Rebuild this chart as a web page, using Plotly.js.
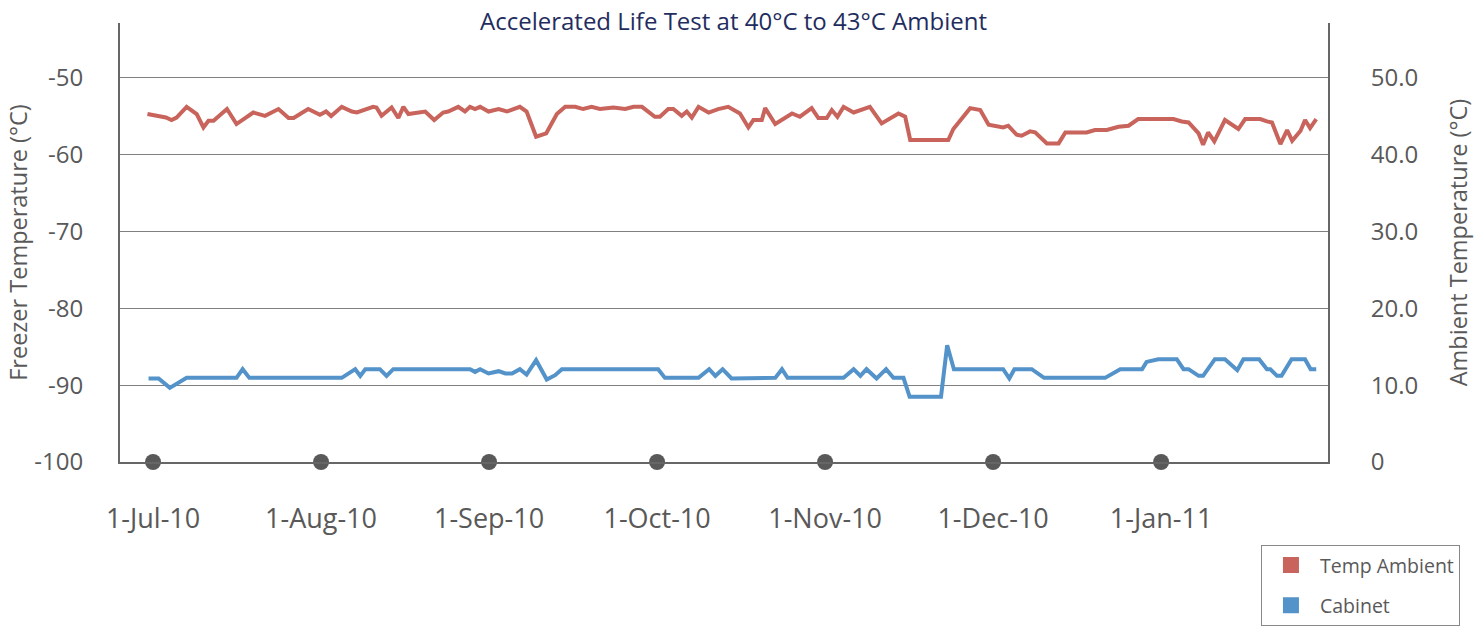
<!DOCTYPE html>
<html>
<head>
<meta charset="utf-8">
<script src="https://cdn.plot.ly/plotly-3.0.1.min.js"></script>
<style>html,body{margin:0;padding:0;background:#fff}#chart{width:1483px;height:641px}</style>
</head>
<body>
<div id="chart"></div>
<script>
// x positions are days on an evenly spaced month scale (30 units per month, 0 = 1-Jul-10)
const monthTicks = [0, 30, 60, 90, 120, 150, 180];
const monthLabels = ['1-Jul-10', '1-Aug-10', '1-Sep-10', '1-Oct-10', '1-Nov-10', '1-Dec-10', '1-Jan-11'];
const monthDotLevel = [-100, -100, -100, -100, -100, -100, -100];

const ambientX = [-1.0, 1.55, 2.3, 3.3, 4.2, 6.0, 7.8, 9.0, 9.9, 10.8, 13.2, 14.9, 17.9, 20.0, 22.4, 24.2, 25.1, 27.7, 29.8, 30.9, 31.8, 33.7, 35.5, 36.4, 39.3, 39.9, 40.8, 42.6, 43.8, 44.7, 45.6, 48.6, 50.2, 51.8, 52.7, 54.5, 55.7, 56.6, 57.5, 58.4, 59.9, 61.7, 63.2, 65.5, 66.7, 68.4, 70.2, 72.1, 73.6, 75.4, 76.8, 78.3, 79.8, 82.2, 84.3, 85.8, 87.3, 89.6, 90.5, 92.0, 92.9, 94.4, 95.3, 96.2, 97.4, 99.2, 100.9, 102.7, 104.8, 106.3, 107.2, 108.7, 109.3, 111.1, 114.1, 115.5, 117.6, 118.8, 120.3, 121.2, 122.2, 123.3, 125.1, 128.0, 130.1, 133.1, 134.3, 135.2, 142.0, 142.9, 145.9, 147.7, 149.2, 151.8, 152.7, 154.2, 155.1, 156.6, 157.5, 159.6, 161.7, 162.9, 166.7, 168.2, 170.3, 172.4, 174.2, 175.9, 182.2, 183.7, 184.9, 186.7, 187.5, 188.4, 189.5, 191.4, 193.8, 195.0, 197.7, 198.9, 199.8, 201.3, 202.5, 203.4, 204.9, 205.7, 206.6, 207.7];
const ambientTemp = [45.29, 44.84, 44.84, 44.51, 44.84, 46.23, 45.29, 43.55, 44.42, 44.42, 45.94, 43.99, 45.49, 45.06, 45.94, 44.77, 44.77, 45.94, 45.19, 45.62, 45.03, 46.23, 45.62, 45.49, 46.23, 46.14, 45.06, 46.14, 44.77, 46.23, 45.29, 45.62, 44.51, 45.49, 45.62, 46.23, 45.62, 46.23, 45.94, 46.23, 45.62, 45.94, 45.62, 46.23, 45.62, 42.34, 42.77, 45.29, 46.23, 46.23, 45.94, 46.23, 45.94, 46.14, 45.94, 46.23, 46.23, 44.94, 44.94, 45.94, 45.94, 45.06, 45.62, 44.84, 46.23, 45.49, 45.94, 46.23, 45.36, 43.55, 44.51, 44.51, 46.06, 43.99, 45.36, 44.94, 46.06, 44.77, 44.77, 45.81, 44.94, 46.23, 45.49, 46.23, 44.07, 45.36, 44.94, 41.91, 41.91, 43.34, 46.06, 45.81, 43.90, 43.55, 43.77, 42.60, 42.47, 43.03, 42.90, 41.47, 41.47, 42.90, 42.90, 43.21, 43.21, 43.64, 43.77, 44.64, 44.64, 44.33, 44.19, 42.77, 41.30, 42.90, 41.73, 44.51, 43.34, 44.64, 44.64, 44.33, 44.19, 41.39, 43.21, 41.82, 43.12, 44.51, 43.47, 44.64];

const cabinetX = [-0.8, 1.0, 3.0, 6.0, 14.9, 16.0, 17.2, 33.7, 36.1, 37.0, 37.9, 40.5, 41.7, 42.9, 56.6, 57.5, 58.4, 59.9, 61.7, 62.9, 64.1, 65.5, 66.7, 68.4, 70.3, 71.8, 73.0, 90.2, 91.4, 97.4, 99.3, 100.4, 101.7, 103.3, 111.1, 112.3, 113.3, 123.3, 125.1, 126.3, 127.4, 129.2, 130.9, 132.2, 134.0, 135.1, 140.7, 141.8, 143.0, 151.8, 152.9, 153.8, 156.9, 159.1, 170.0, 172.7, 176.6, 177.4, 179.5, 182.8, 184.0, 184.9, 186.7, 187.5, 189.6, 191.4, 193.6, 194.7, 197.5, 198.9, 199.5, 200.7, 201.5, 203.3, 205.7, 206.7, 207.7];
const cabinetTemp = [-89.13, -89.13, -90.35, -89.05, -89.05, -87.92, -89.05, -89.05, -87.92, -88.79, -87.92, -87.92, -88.79, -87.92, -87.92, -88.27, -87.92, -88.48, -88.18, -88.48, -88.48, -87.92, -88.61, -86.75, -89.26, -88.70, -87.92, -87.92, -89.05, -89.05, -87.92, -88.79, -87.92, -89.13, -89.05, -87.92, -89.05, -89.05, -87.92, -88.79, -87.92, -89.13, -87.92, -89.05, -89.05, -91.52, -91.52, -84.81, -87.92, -87.92, -89.13, -87.92, -87.92, -89.05, -89.05, -87.92, -87.92, -86.97, -86.62, -86.62, -87.92, -87.92, -88.79, -88.79, -86.62, -86.62, -88.05, -86.62, -86.62, -87.92, -87.92, -88.79, -88.79, -86.62, -86.62, -87.92, -87.92];

const leftTicks = [-100, -90, -80, -70, -60, -50];
const leftLabels = ['-100', '-90', '-80', '-70', '-60', '-50'];
const rightTicks = [0, 10, 20, 30, 40, 50];
const rightLabels = ['0', '10.0', '20.0', '30.0', '40.0', '50.0'];

const RED = '#c8645c';
const BLUE = '#5393c9';
const FONT = 'Open Sans, Noto Sans, sans-serif';
const GREY = '#595959';

const traces = [
  {x: ambientX, y: ambientTemp, yaxis: 'y2', mode: 'lines', line: {color: RED, width: 4}, showlegend: false, hoverinfo: 'skip'},
  {x: cabinetX, y: cabinetTemp, mode: 'lines', line: {color: BLUE, width: 4}, showlegend: false, hoverinfo: 'skip'},
  {x: monthTicks, y: monthDotLevel, mode: 'markers', marker: {color: '#595959', size: 16}, cliponaxis: false, showlegend: false, hoverinfo: 'skip'},
  {x: [null], y: [null], mode: 'markers', name: 'Temp Ambient', legendgroup: 'a', marker: {symbol: 'square', color: RED, size: 19}},
  {x: [null], y: [null], mode: 'markers', name: 'Cabinet', legendgroup: 'b', marker: {symbol: 'square', color: BLUE, size: 19}}
];

const layout = {
  width: 1483, height: 641,
  margin: {l: 120, r: 155, t: 23, b: 179},
  paper_bgcolor: '#fff', plot_bgcolor: '#fff',
  font: {family: FONT, color: GREY, size: 22},
  title: {text: 'Accelerated Life Test at 40°C to 43°C Ambient', x: 0.4946, xanchor: 'center', y: 1 - 22/641, yanchor: 'middle', font: {family: FONT, size: 24, color: '#1f2d5e'}},
  xaxis: {range: [-5.9, 209.8], tickmode: 'array', tickvals: monthTicks, ticktext: monthLabels, showgrid: false, zeroline: false, showline: true, linecolor: '#666', linewidth: 2, ticks: '', ticklabelstandoff: 32, tickfont: {size: 27, color: GREY}},
  yaxis: {range: [-100, -42.86], tickmode: 'array', tickvals: leftTicks, ticktext: leftLabels, showgrid: true, gridcolor: '#808080', gridwidth: 1, zeroline: false, showline: true, linecolor: '#666', linewidth: 2, ticks: '', ticklabelstandoff: 30, tickfont: {size: 24, color: GREY}, title: {text: 'Freezer Temperature (°C)', standoff: 0, font: {size: 23.5, color: GREY}}},
  yaxis2: {overlaying: 'y', side: 'right', range: [0, 57.14], tickmode: 'array', tickvals: rightTicks, ticktext: rightLabels, showgrid: false, zeroline: false, showline: true, linecolor: '#666', linewidth: 2, ticks: '', ticklabelstandoff: 36, tickfont: {size: 24, color: GREY}, title: {text: 'Ambient Temperature (°C)', standoff: 33, font: {size: 23.5, color: GREY}}},
  legend: {x: 0.9445, xanchor: 'left', y: -0.1886, yanchor: 'top', bordercolor: '#888', borderwidth: 1, bgcolor: '#fff', font: {size: 19.5, color: GREY}, tracegroupgap: 12, itemwidth: 48, entrywidth: 219},
  showlegend: true
};

Plotly.newPlot('chart', traces, layout, {displayModeBar: false, staticPlot: true});
</script>
</body>
</html>
